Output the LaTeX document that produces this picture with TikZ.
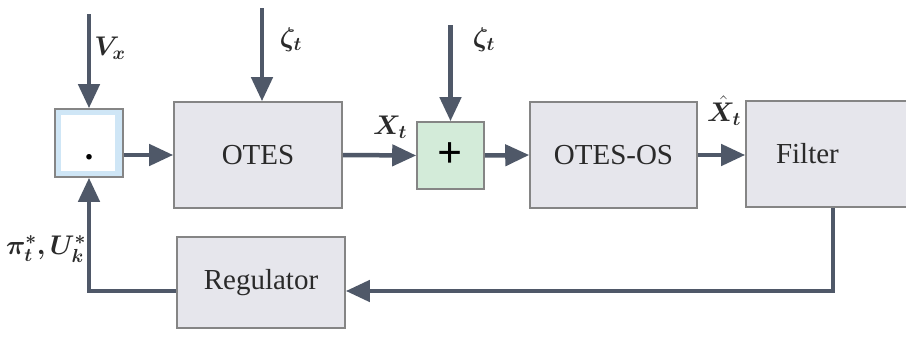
\documentclass[tikz,border=0pt]{standalone}
\usepackage{fix-cm}
\usepackage{amsmath,bm}
\usepackage{fontspec}
\setmainfont{Liberation Serif}
\usetikzlibrary{arrows.meta}
\definecolor{boxfill}{HTML}{E6E6EC}
\definecolor{boxline}{HTML}{858585}
\definecolor{arrcol}{HTML}{4F5868}
\definecolor{plusfill}{HTML}{D3EBD9}
\definecolor{bluefill}{HTML}{CFE6F6}
\definecolor{txt}{HTML}{2A2A2A}
\tikzset{
  blk/.style={draw=boxline, line width=1.6pt, fill=boxfill, minimum width=168pt, minimum height=106pt, inner sep=0pt, text=txt, font=\fontsize{29}{30}\selectfont},
  arr/.style={draw=arrcol, line width=4.5pt, -{Triangle[length=24pt,width=21pt]}},
  lbl/.style={inner sep=0pt, text=txt, font=\fontsize{27}{29}\selectfont}
}
\begin{document}
\begin{tikzpicture}[x=1pt,y=-1pt]
\useasboundingbox (0,0) rectangle (906,340);
\clip (0,0) rectangle (906,340);
\fill[white] (0,0) rectangle (906,340);
% blocks
\node[draw=boxline, line width=1.6pt, fill=bluefill, minimum width=68pt, minimum height=68pt, inner sep=0pt] (dotbox) at (89,143) {};
\fill[white] (61,115) rectangle (115,171);
\node[inner sep=0pt, text=black, font=\fontsize{34}{34}\selectfont\bfseries] (dot) at (89,157) {.};
\node[blk] (otes) at (258,155) {OTES};
\node[draw=boxline, line width=1.6pt, fill=plusfill, minimum width=67pt, minimum height=67pt, inner sep=0pt, text=black, font=\fontsize{44}{44}\selectfont\bfseries] (plus) at (450.5,155.5) {+};
\node[blk, minimum width=167pt] (otesos) at (613.5,155) {OTES-OS};
\node[blk, minimum width=180pt, text width=140pt, align=left] (filter) at (836,154) {\hspace*{10pt}Filter};
\node[blk, minimum height=91pt] (reg) at (261,282.5) {Regulator};
% input coordinates
\coordinate (vin) at (89,14);
\coordinate (z1) at (262,8);
\coordinate (z2) at (450.5,25);
\coordinate (fb1) at (833,291);
\coordinate (fb2) at (89,291);
% arrows
\draw[arr] (vin) -- (dotbox.north);
\draw[arr] (z1) -- (z1 |- otes.north);
\draw[arr] (z2) -- (plus.north);
\draw[arr] ([yshift=-12pt]dotbox.east) -- (otes.west);
\draw[arr] (otes.east) -- (plus.west);
\draw[arr] (plus.east) -- (otesos.west);
\draw[arr] (otesos.east) -- (otesos.east -| filter.west);
\draw[arr] (fb1 |- filter.south) -- (fb1) -- (fb1 -| reg.east);
\draw[arr] (fb2 -| reg.west) -- (fb2) -- (dotbox.south);
% labels
\node[lbl] (lv) at (110,48) {$\bm{V_x}$};
\node[lbl] (lz1) at (291,40) {$\bm{\zeta_t}$};
\node[lbl] (lz2) at (484,40) {$\bm{\zeta_t}$};
\node[lbl] (lx) at (390,127) {$\bm{X_t}$};
\node[lbl] (lxh) at (724,111) {$\bm{\hat{X}_t}$};
\node[lbl] (lpi) at (46,249) {$\bm{\pi^{*}_{t},U^{*}_{k}}$};
\end{tikzpicture}
\end{document}
